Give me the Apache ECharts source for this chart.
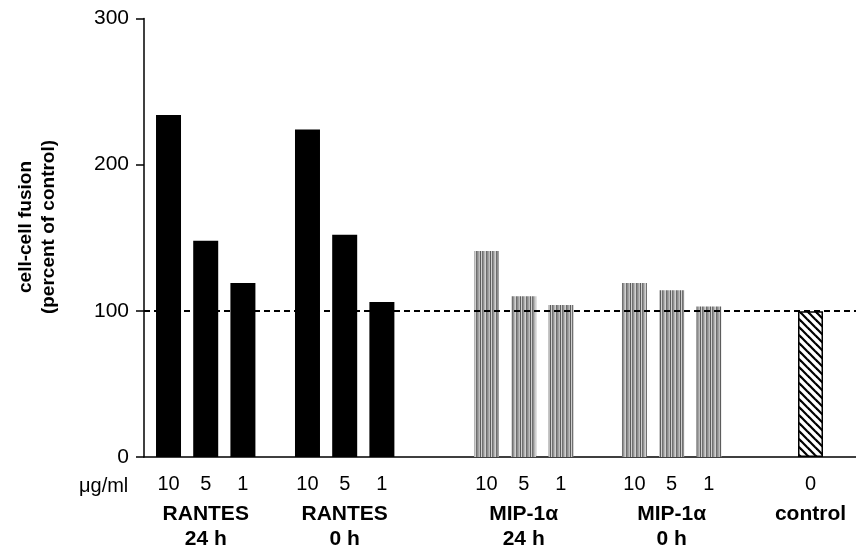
<!DOCTYPE html>
<html>
<head>
<meta charset="utf-8">
<script src="https://cdn.jsdelivr.net/npm/echarts@6/dist/echarts.min.js"></script>
<style>
  html, body { margin: 0; padding: 0; background: #fff; }
  #chart { width: 856px; height: 550px; }
</style>
</head>
<body>
<div id="chart"></div>
<script>
// ---- data ----
const groupNames = ['RANTES', 'RANTES', 'MIP-1α', 'MIP-1α', 'control'];
const groupTimes = ['24 h', '0 h', '24 h', '0 h', ''];
const doseLabels = [['10', '5', '1'], ['10', '5', '1'], ['10', '5', '1'], ['10', '5', '1'], ['0']];
const rantes24h = [234, 148, 119];
const rantes0h = [224, 152, 106];
const mip24h = [141, 110, 104];
const mip0h = [119, 114, 103];
const control = [99.7];
const yTickValues = [0, 100, 200, 300];
const referenceLevel = 100;
const unitLabel = 'μg/ml';
const yTitleLines = ['cell-cell fusion', '(percent of control)'];

// ---- layout / styles ----
const groupValues = [rantes24h, rantes0h, mip24h, mip0h, control];
const groupStart = [0.659, 4.395, 9.207, 13.185, 17.917];
const xMax = 19.14;
const groupKind = ['solid', 'solid', 'gray', 'gray', 'hatch'];
const FONT = '"Liberation Sans", Arial, Helvetica, sans-serif';

function grayTile() {
  const c = document.createElement('canvas');
  c.width = 10; c.height = 14;
  const ctx = c.getContext('2d');
  const cols = [128, 184, 112, 170, 146, 196, 120, 176, 138, 190];
  for (let x = 0; x < 10; x++) {
    for (let y = 0; y < 14; y++) {
      let v = cols[x] + (((x * 5 + y * 7) % 7) - 3) * 12;
      v = Math.max(70, Math.min(235, v));
      ctx.fillStyle = 'rgb(' + v + ',' + v + ',' + v + ')';
      ctx.fillRect(x, y, 1, 1);
    }
  }
  return c;
}
function hatchTile() {
  const c = document.createElement('canvas');
  c.width = 8; c.height = 8;
  const ctx = c.getContext('2d');
  ctx.fillStyle = '#fff';
  ctx.fillRect(0, 0, 8, 8);
  ctx.strokeStyle = '#000';
  ctx.lineWidth = 2.2;
  for (const o of [-8, 0, 8]) {
    ctx.beginPath();
    ctx.moveTo(o - 1, -1);
    ctx.lineTo(o + 9, 9);
    ctx.stroke();
  }
  return c;
}
const grayPattern = { image: grayTile(), repeat: 'repeat' };
const hatchPattern = { image: hatchTile(), repeat: 'repeat' };

const barData = [];
const doseByPos = {};
const groupPos = [];
const groupByPos = {};
groupValues.forEach((vals, g) => {
  vals.forEach((v, k) => {
    const x = groupStart[g] + k;
    doseByPos[x.toFixed(3)] = doseLabels[g][k];
    let itemStyle;
    if (groupKind[g] === 'solid') itemStyle = { color: '#000' };
    else if (groupKind[g] === 'gray') itemStyle = { color: grayPattern };
    else itemStyle = { color: hatchPattern, borderColor: '#000', borderWidth: 1.5 };
    barData.push({ value: [x, v], itemStyle: itemStyle });
  });
  const cx = groupStart[g] + (vals.length - 1) / 2;
  groupPos.push(cx);
  groupByPos[cx.toFixed(3)] = g;
});
const dosePositions = Object.keys(doseByPos).map(Number);

const chart = echarts.init(document.getElementById('chart'), null, { renderer: 'canvas' });
chart.setOption({
  backgroundColor: '#fff',
  animation: false,
  textStyle: { fontFamily: FONT },
  grid: { left: 144, right: 0, top: 18.5, bottom: 92, containLabel: false },
  xAxis: [
    {
      type: 'value', min: 0, max: xMax, position: 'bottom',
      axisLine: { show: true, lineStyle: { color: '#000', width: 1.5 } },
      axisTick: { show: false },
      splitLine: { show: false },
      axisLabel: {
        customValues: dosePositions,
        margin: 17,
        color: '#000',
        fontSize: 20,
        fontFamily: FONT,
        formatter: function (v) { return doseByPos[Number(v).toFixed(3)] || ''; }
      }
    },
    {
      type: 'value', min: 0, max: xMax, position: 'bottom',
      axisLine: { show: false },
      axisTick: { show: false },
      splitLine: { show: false },
      axisLabel: {
        customValues: groupPos,
        margin: 45,
        formatter: function (v) {
          const g = groupByPos[Number(v).toFixed(3)];
          if (g === undefined) return '';
          return '{b|' + groupNames[g] + '}\n{b|' + (groupTimes[g] || ' ') + '}';
        },
        rich: {
          b: { fontSize: 21, fontWeight: 'bold', color: '#000', lineHeight: 25, fontFamily: FONT }
        }
      }
    }
  ],
  yAxis: {
    type: 'value', min: yTickValues[0], max: yTickValues[yTickValues.length - 1], interval: 100,
    axisLine: { show: true, lineStyle: { color: '#000', width: 1.5 } },
    axisTick: { show: true, inside: false, length: 8, lineStyle: { color: '#000', width: 1.5 } },
    splitLine: { show: false },
    axisLabel: { margin: 15, color: '#000', fontSize: 21, fontFamily: FONT }
  },
  graphic: [
    {
      type: 'text', left: 79, top: 476,
      style: { text: unitLabel, font: '20px ' + FONT, fill: '#000' }
    },
    {
      type: 'text', x: 37, y: 227, rotation: Math.PI / 2,
      style: {
        text: yTitleLines.join('\n'), font: 'bold 19px ' + FONT, fill: '#000',
        align: 'center', verticalAlign: 'middle', lineHeight: 23
      }
    }
  ],
  series: [
    {
      type: 'bar',
      xAxisIndex: 0, yAxisIndex: 0,
      barWidth: 25,
      data: barData,
      markLine: {
        silent: true,
        symbol: ['none', 'none'],
        label: { show: false },
        lineStyle: { color: '#000', width: 2, type: [6, 4] },
        data: [{ yAxis: referenceLevel }]
      }
    }
  ]
});
</script>
</body>
</html>
